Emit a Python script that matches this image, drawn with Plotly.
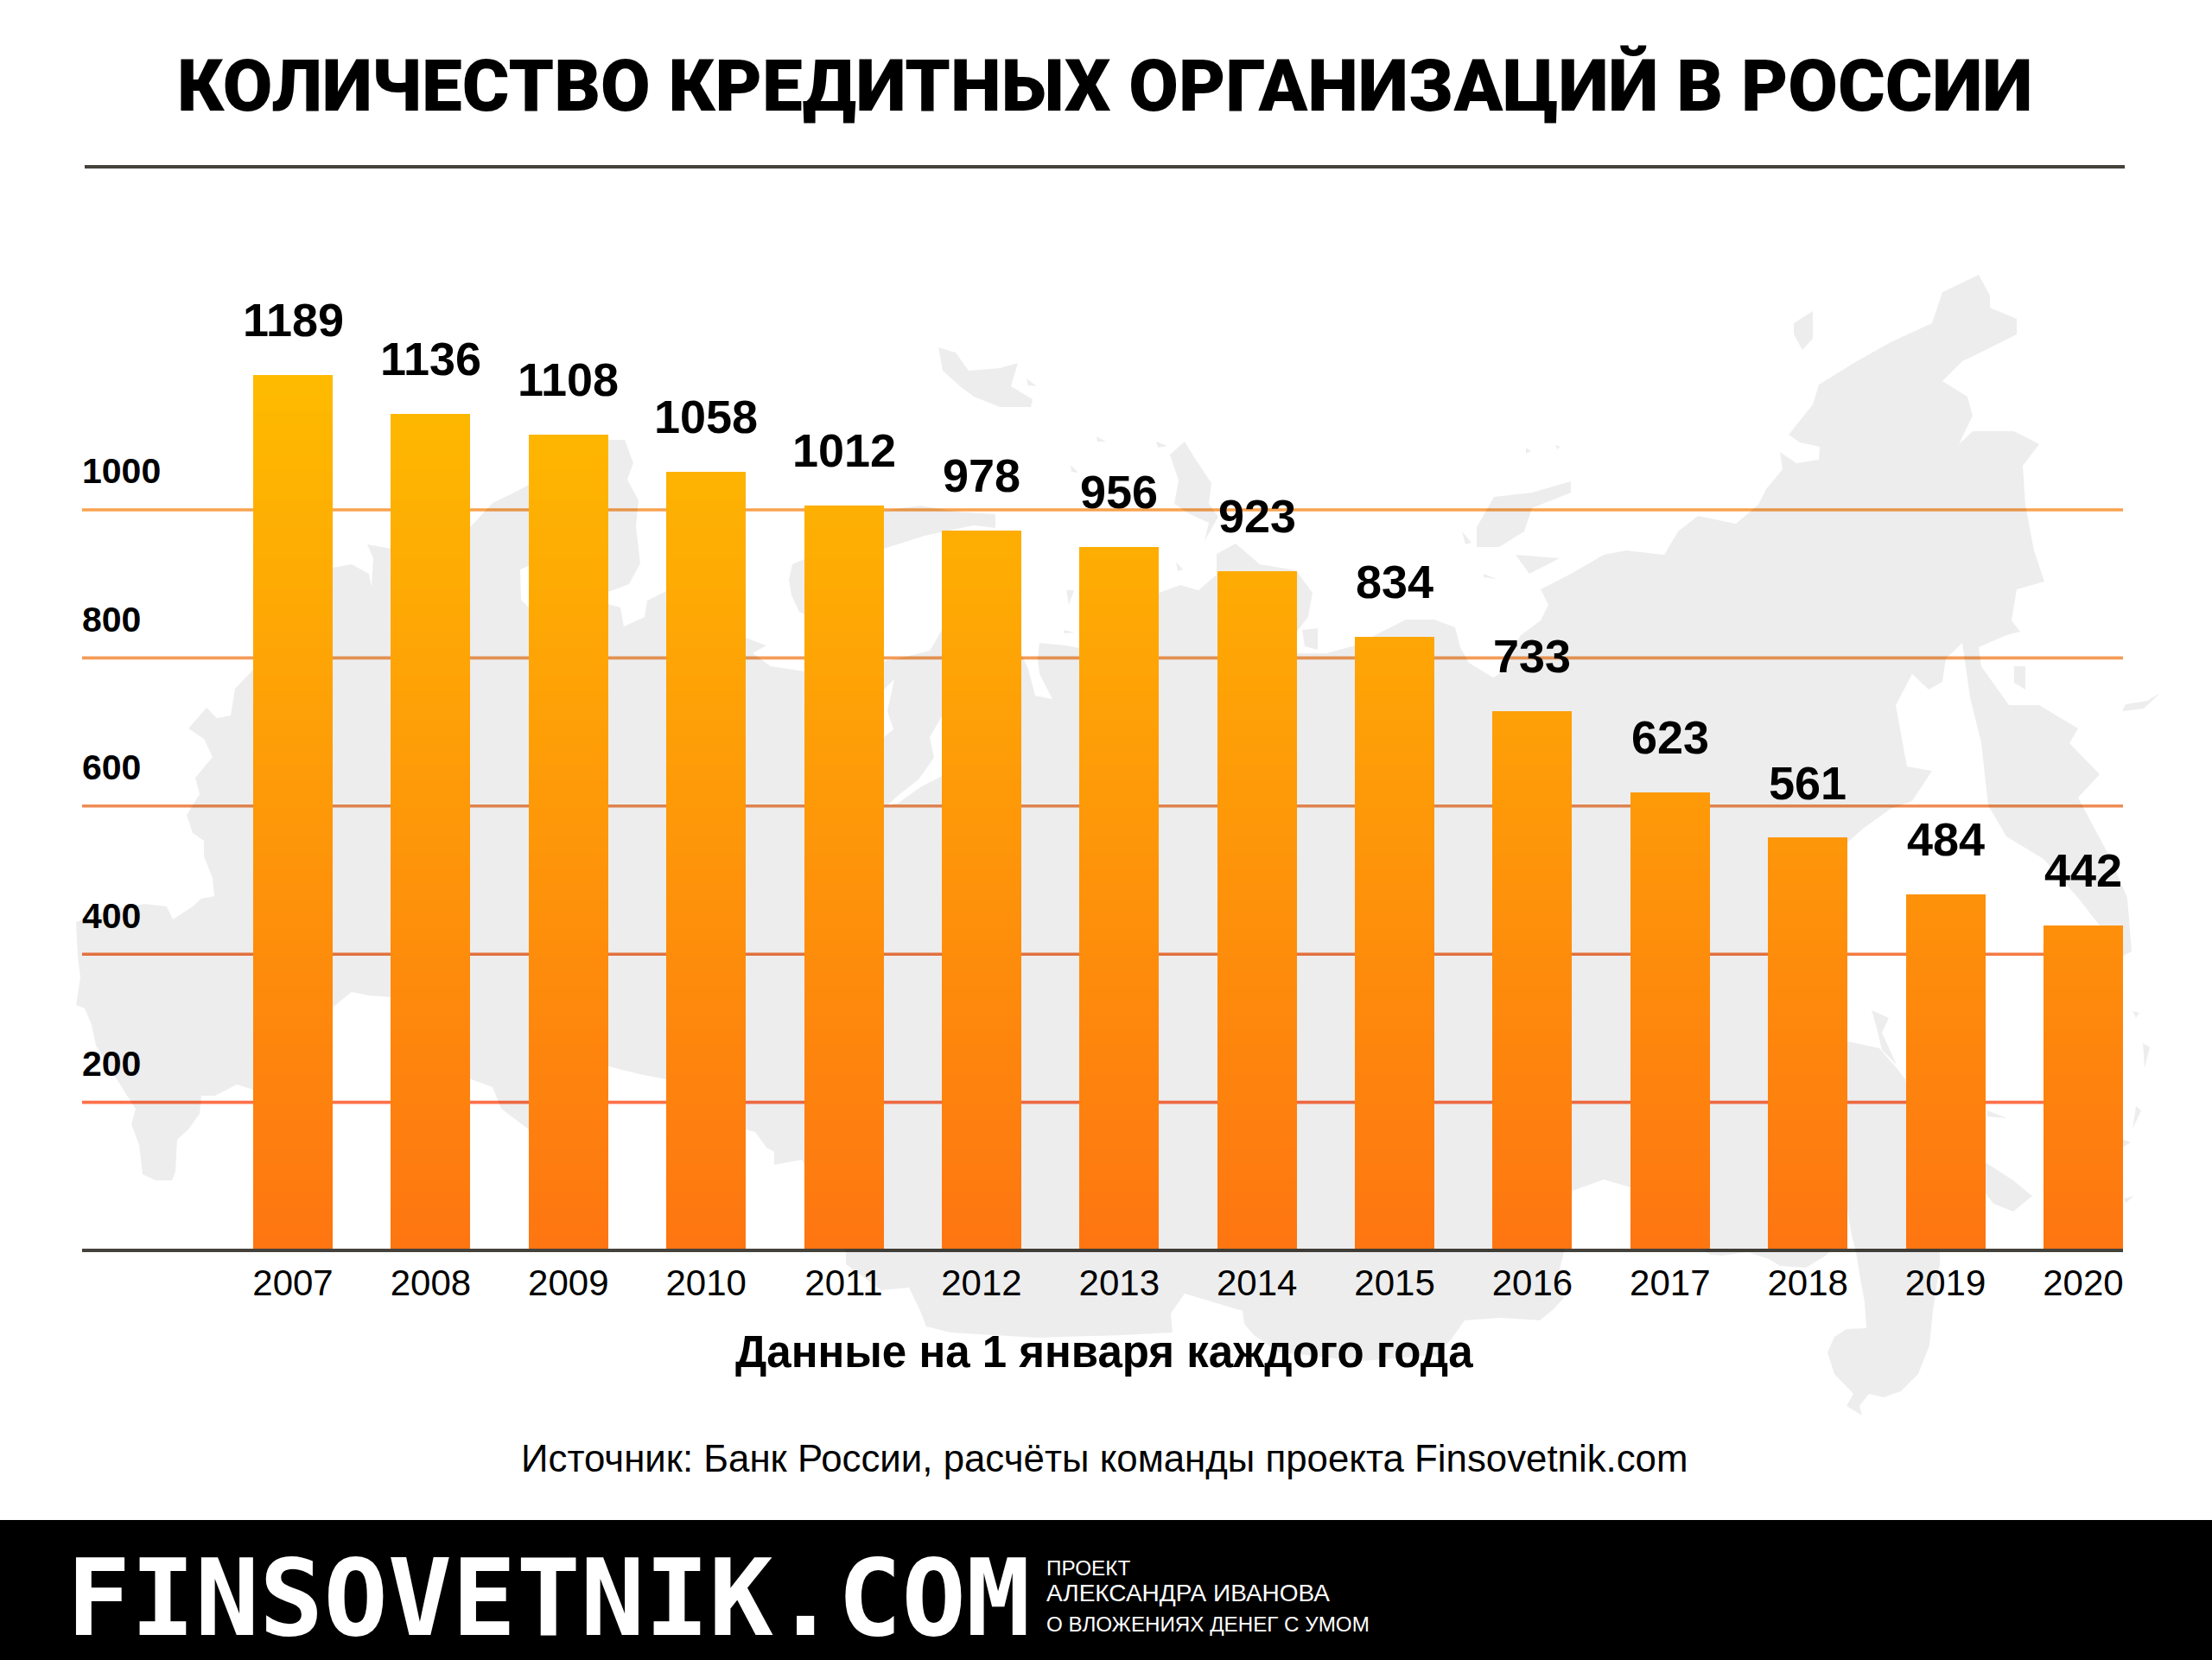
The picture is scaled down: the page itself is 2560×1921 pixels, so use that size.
#!/usr/bin/env python3
import numpy as np
import plotly.graph_objects as go

W, H = 2560, 1921

years = list(range(2007, 2021))
counts = [1189, 1136, 1108, 1058, 1012, 978, 956, 923, 834, 733, 623, 561, 484, 442]
grid_values = [200, 400, 600, 800, 1000]
grid_labels = ["200", "400", "600", "800", "1000"]
grid_colors = ["#FF7048", "#F47A43", "#EF8C54", "#F49C59", "#F9A24E"]

title_text = "КОЛИЧЕСТВО КРЕДИТНЫХ ОРГАНИЗАЦИЙ В РОССИИ"
xlabel_text = "Данные на 1 января каждого года"
source_text = "Источник: Банк России, расчёты команды проекта Finsovetnik.com"

# background silhouette, traced by eye, in page pixels
map_main = [
    (180,1366),(165,1359),(161,1325),(152,1301),(157,1283),(147,1268),(111,1210),(106,1186),(98,1167),(88,1163),
    (93,1131),(90,1107),(88,1067),(121,1055),(167,1046),(193,1049),(200,1064),(223,1049),(233,1040),(248,1037),
    (246,1016),(236,991),(236,973),(223,964),(216,943),(231,919),(226,900),(246,876),(236,855),(218,843),
    (239,819),(251,831),(267,828),(272,797),(292,776),(385,657),(407,653),(427,664),(430,679),(432,646),
    (425,630),(453,635),(545,609),(570,582),(591,572),(612,561),(704,509),(723,509),(733,536),(726,555),
    (739,579),(736,609),(741,652),(728,676),(704,685),(657,676),(612,655),(602,659),(603,694),(612,703),
    (657,703),(704,699),(718,703),(722,725),(746,714),(749,695),(771,684),(863,738),(887,747),(871,756),
    (892,771),(931,777),(950,720),(931,711),(925,708),(916,689),(913,671),(917,653),(931,647),(1023,591),
    (1065,585),(1106,592),(1152,595),(1152,611),(1127,608),(1070,620),(1045,628),(1023,635),(1000,700),(1023,765),
    (1040,762),(1076,753),(1090,729),(1182,757),(1190,774),(1198,805),(1218,809),(1203,780),(1201,762),(1203,744),
    (1234,747),(1249,750),(1341,686),(1366,677),(1387,683),(1408,665),(1408,641),(1430,629),(1458,653),(1500,660),
    (1519,686),(1514,714),(1500,732),(1500,756),(1535,756),(1568,747),(1627,717),(1660,717),(1684,726),(1690,749),
    (1700,767),(1728,784),(1735,780),(1760,735),(1783,718),(1792,700),(1783,682),(1818,664),(1856,642),(1882,637),
    (1926,642),(1942,615),(1965,597),(2009,606),(2035,584),(2044,566),(2063,543),(2060,523),(2079,536),(2105,532),
    (2106,517),(2083,512),(2070,503),(2098,468),(2105,445),(2149,418),(2188,396),(2236,374),(2248,338),(2290,318),
    (2303,342),(2303,356),(2334,369),(2334,387),(2290,409),(2271,418),(2248,441),(2277,459),(2283,481),(2267,514),
    (2283,499),(2331,499),(2360,514),(2341,539),(2344,584),(2354,637),(2366,673),(2334,682),(2328,718),(2338,731),
    (2322,735),(2290,749),(2293,771),(2325,816),(2360,816),(2405,843),(2395,860),(2430,896),(2405,923),(2443,994),
    (2462,1039),(2467,1101),(2457,1106),(2405,1039),(2365,994),(2322,968),(2301,932),(2293,860),(2280,807),(2271,744),
    (2252,762),(2248,789),(2232,798),(2213,780),(2194,816),(2207,887),(2236,892),(2213,927),(2188,936),(2156,959),
    (2138,975),(2100,1100),(2138,1205),(2175,1213),(2195,1236),(2205,1249),(2245,1400),(2245,1463),(2237,1517),(2233,1557),
    (2220,1590),(2200,1610),(2180,1617),(2163,1613),(2152,1627),(2155,1638),(2137,1627),(2145,1613),(2123,1590),(2115,1565),
    (2123,1547),(2137,1538),(2160,1537),(2158,1507),(2153,1480),(2148,1449),(2143,1430),(2138,1400),(2117,1449),(2113,1453),
    (2090,1467),(2060,1465),(2047,1457),(2023,1449),(1993,1453),(1980,1452),(1960,1440),(1887,1374),(1856,1365),(1820,1378),
    (1810,1449),(1805,1468),(1810,1502),(1798,1515),(1782,1528),(1736,1525),(1695,1528),(1681,1548),(1663,1568),(1575,1575),
    (1480,1565),(1451,1545),(1440,1532),(1438,1517),(1371,1497),(1355,1520),(1357,1542),(1300,1545),(1200,1548),(1100,1542),
    (1072,1535),(1065,1517),(1052,1490),(1020,1493),(979,1463),(979,1449),(928,1342),(896,1348),(896,1333),(887,1328),
    (874,1310),(863,1307),(771,1249),(740,1243),(704,1234),(612,1307),(596,1295),(580,1283),(570,1258),(545,1249),
    (453,1154),(427,1152),(407,1148),(387,1164),(293,1261),(274,1255),(249,1268),(233,1268),(231,1289),(218,1307),
    (205,1319),(203,1356),(199,1366),
]
map_islands = [
    [(1354,526),(1371,511),(1384,532),(1402,559),(1399,583),(1410,598),(1394,626),(1399,605),(1377,595),(1359,583),(1364,556)],
    [(1709,610),(1729,575),(1773,570),(1818,557),(1818,570),(1773,588),(1764,615),(1735,633),(1709,633)],
    [(1692,615),(1703,628),(1696,630)],
    [(1754,642),(1805,646),(1770,664)],
    [(1717,664),(1732,670),(1717,668)],
    [(2076,374),(2098,360),(2098,392),(2086,405),(2076,387)],
    [(2456,823),(2481,820),(2500,802),(2485,811),(2460,815)],
    [(2331,771),(2344,771),(2344,798),(2331,790)],
    [(1086,402),(1106,408),(1121,429),(1157,426),(1178,420),(1170,447),(1195,462),(1193,471),(1157,471),(1127,459),(1111,447),(1091,429)],
    [(1188,438),(1200,447),(1190,446)],
    [(1269,505),(1280,511),(1270,511)],
    [(1239,538),(1248,547),(1240,546)],
    [(1338,511),(1351,516),(1340,518)],
    [(1361,650),(1369,659),(1363,661)],
    [(1234,683),(1243,683),(1237,700)],
    [(1231,729),(1244,732),(1232,733)],
    [(1507,729),(1525,727),(1525,752),(1510,748)],
    [(2166,1169),(2186,1178),(2178,1195),(2195,1232),(2178,1215),(2172,1190)],
    [(2300,1285),(2323,1294),(2300,1292)],
    [(2290,1340),(2330,1366),(2352,1384),(2330,1402),(2307,1393),(2290,1370)],
    [(2468,1170),(2476,1172),(2472,1178)],
    [(2480,1207),(2488,1212),(2482,1236)],
    [(2472,1280),(2478,1285),(2468,1307)],
    [(2455,1318),(2466,1322),(2456,1328)],
    [(2458,1387),(2470,1384),(2460,1392)],
    [(1766,518),(1772,522),(1766,525)],
    [(1800,515),(1806,517),(1802,520)],
]
map_holes = [
    [(1090,829),(1076,853),(1081,877),(1063,902),(1040,920),(1027,932),(1040,929),(1065,911),(1090,898)],
    [(1023,798),(1035,786),(1027,823),(1034,844),(1023,853)],
]


def signed_area(poly):
    return sum(a[0] * b[1] - b[0] * a[1] for a, b in zip(poly, poly[1:] + poly[:1]))


def map_xy():
    xs, ys = [], []
    main_sign = signed_area(map_main) > 0
    for poly in [map_main] + map_islands + map_holes:
        pts = poly
        if poly in map_holes and (signed_area(poly) > 0) == main_sign:
            pts = poly[::-1]
        xs += [p[0] for p in pts] + [pts[0][0], None]
        ys += [p[1] for p in pts] + [pts[0][1], None]
    return xs, ys


def px(x):
    return x / W


def py(y):
    return 1 - y / H


def note(text, x, y, size, family="Liberation Sans", color="#000000", anchor="center", weight="normal"):
    return dict(text=text, x=px(x), y=py(y), xref="paper", yref="paper", showarrow=False,
                xanchor=anchor, yanchor="middle", borderpad=0,
                font=dict(size=size, family=family, color=color, weight=weight))


fig = go.Figure()

# map sits above the grid lines and under the bars, it only darkens what is below
mx, my = map_xy()
fig.add_trace(go.Scatter(x=mx, y=my, xaxis="x2", yaxis="y2", mode="lines", fill="toself",
                         fillcolor="rgba(0,0,0,0.07)", line=dict(width=0), hoverinfo="skip", showlegend=False))

# bars are stacked thin bands because the colour fades with height
n_bands = 60
edges = np.linspace(0, 1200, n_bands + 1)
top_rgb = np.array([255, 188, 0])
bottom_rgb = np.array([254, 118, 18])
counts_arr = np.array(counts)
for i in range(n_bands):
    t = (i + 0.5) / n_bands
    rgb = bottom_rgb + (top_rgb - bottom_rgb) * t
    fig.add_trace(go.Bar(x=years, y=np.clip(counts_arr - edges[i], 0, edges[i + 1] - edges[i]),
                         xaxis="x3", yaxis="y3", showlegend=False, hoverinfo="skip",
                         marker=dict(color="rgb(%d,%d,%d)" % tuple(rgb), line=dict(width=0))))

shapes = [
    dict(type="rect", xref="paper", yref="paper", x0=0, x1=1, y0=0, y1=py(1759),
         fillcolor="#000000", line=dict(width=0), layer="below"),
    dict(type="line", xref="paper", yref="paper", x0=px(98), x1=px(2459), y0=py(193), y1=py(193),
         line=dict(color="#45423C", width=4)),
]
for v, c in zip(grid_values, grid_colors):
    shapes.append(dict(type="line", xref="x domain", yref="y", x0=0, x1=1, y0=v, y1=v,
                       line=dict(color=c, width=3.6), layer="below"))

annotations = [
    note(title_text, 1278, 99, 83.5, "Roboto", weight=900),
    note(xlabel_text, 1278, 1564, 51, "Liberation Sans", weight="bold"),
    note(source_text, 1278, 1687, 43.8),
    note("FINSOVETNIK.COM", 76, 1849, 123.5, "DejaVu Sans Mono", "#FFFFFF", "left", "bold"),
    note("ПРОЕКТ", 1210, 1814, 24.3, "Liberation Sans", "#FFFFFF", "left"),
    note("АЛЕКСАНДРА ИВАНОВА", 1210, 1843, 28, "Liberation Sans", "#FFFFFF", "left"),
    note("О ВЛОЖЕНИЯХ ДЕНЕГ С УМОМ", 1210, 1879, 24.2, "Liberation Sans", "#FFFFFF", "left"),
]
for yr, c in zip(years, counts):
    annotations.append(dict(text=str(c), x=yr, y=c, xref="x3", yref="y3", showarrow=False, yshift=64,
                            xanchor="center", yanchor="middle", borderpad=0,
                            font=dict(size=54, family="Liberation Sans", color="#000000", weight="bold")))

x_dom = [px(95), px(2457)]
y_dom = [py(1445), py(200)]
x_range = [2005.469, 2020.289]

fig.update_layout(
    width=W, height=H, autosize=False,
    margin=dict(l=0, r=0, t=0, b=0),
    paper_bgcolor="#FFFFFF", plot_bgcolor="rgba(0,0,0,0)",
    barmode="stack", bargap=0.423,
    shapes=shapes, annotations=annotations,
    xaxis=dict(domain=x_dom, range=x_range, anchor="y", tickmode="array", tickvals=years,
               ticktext=[str(y) for y in years], ticks="", showgrid=False, zeroline=False,
               showline=True, linecolor="#45423C", linewidth=4, ticklabelstandoff=0,
               tickfont=dict(size=42, family="Liberation Sans", color="#000000")),
    yaxis=dict(domain=y_dom, range=[2.33, 1455], anchor="x", tickmode="array", tickvals=grid_values,
               ticktext=grid_labels, ticks="", showgrid=False, zeroline=False, showline=False,
               ticklabelposition="inside", ticklabelshift=-45, ticklabelstandoff=-3,
               tickfont=dict(size=41, family="Liberation Sans", color="#000000", weight="bold")),
    xaxis2=dict(domain=[0, 1], range=[0, W], anchor="y2", visible=False),
    yaxis2=dict(domain=[0, 1], range=[H, 0], anchor="x2", visible=False),
    xaxis3=dict(domain=x_dom, range=x_range, anchor="y3", visible=False),
    yaxis3=dict(domain=y_dom, range=[3.5, 1463.6], anchor="x3", visible=False),
)

fig.write_html("out.html", config={"displayModeBar": False}, post_script="document.body.style.margin='0';")
